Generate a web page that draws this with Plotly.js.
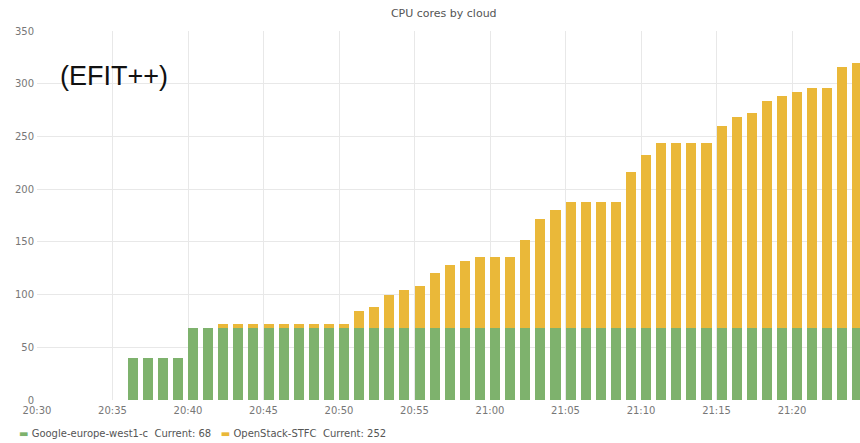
<!DOCTYPE html>
<html><head><meta charset="utf-8">
<script src="https://cdn.plot.ly/plotly-3.0.1.min.js"></script>
<style>html,body{margin:0;padding:0;background:#fff}#c{width:860px;height:443px}</style>
</head><body><div id="c"></div>
<script>
const times = ["20:36","20:37","20:38","20:39","20:40","20:41","20:42","20:43","20:44","20:45","20:46","20:47","20:48","20:49","20:50","20:51","20:52","20:53","20:54","20:55","20:56","20:57","20:58","20:59","21:00","21:01","21:02","21:03","21:04","21:05","21:06","21:07","21:08","21:09","21:10","21:11","21:12","21:13","21:14","21:15","21:16","21:17","21:18","21:19","21:20","21:21","21:22","21:23","21:24"];
const google = [40,40,40,40,68,68,68,68,68,68,68,68,68,68,68,68,68,68,68,68,68,68,68,68,68,68,68,68,68,68,68,68,68,68,68,68,68,68,68,68,68,68,68,68,68,68,68,68,68];
const openstack = [0,0,0,0,0,0,4,4,4,4,4,4,4,4,4,16,20,32,36,40,52,60,64,68,68,68,84,104,112,120,120,120,120,148,164,176,176,176,176,192,200,204,216,220,224,228,228,248,252];
const seriesNames = ["Google-europe-west1-c","OpenStack-STFC"];
const currentVals = [google[google.length-1], openstack[openstack.length-1]];
const xTickStart = "20:30", xEnd = "21:24:30";
const day = "2019-01-01 ";
const xs = times.map(t => day + t);
const green = "#7EB26D", yellow = "#EAB839";
const tickFont = {family:"DejaVu Sans", size:10, color:"#777"};
const traces = [
  {type:"bar", x:xs, y:google, name:seriesNames[0], marker:{color:green}, offset:0, width:40000, showlegend:false, hoverinfo:"skip"},
  {type:"bar", x:xs, y:openstack, name:seriesNames[1], marker:{color:yellow}, offset:0, width:40000, showlegend:false, hoverinfo:"skip"}
];
const layout = {
  width:860, height:443, barmode:"stack",
  margin:{l:37, r:0, t:31, b:43},
  paper_bgcolor:"#fff", plot_bgcolor:"#fff",
  title:{text:"CPU cores by cloud", font:{family:"DejaVu Sans", size:11, color:"#555"}, x:0.516, xanchor:"center", y:0.98, yanchor:"top"},
  xaxis:{type:"date", range:[day+xTickStart, day+xEnd], tickformat:"%H:%M", dtick:300000, tick0:day+xTickStart,
         showgrid:true, gridcolor:"#e8e8e8", gridwidth:1, zeroline:false, showline:false, ticks:"", tickfont:tickFont, ticklabelstandoff:3},
  yaxis:{range:[0,350], dtick:50, showgrid:true, gridcolor:"#e8e8e8", zeroline:false, showline:false, ticks:"", tickfont:tickFont, ticklabelstandoff:2},
  annotations:[
    {text:"(EFIT++)", xref:"paper", yref:"paper", x:0.026, y:0.878, xanchor:"left", yanchor:"middle", showarrow:false, font:{family:"Liberation Sans, Arial", size:27, color:"#111"}},
    {text:"<span style='color:"+green+"'>▬</span> "+seriesNames[0]+"  Current: "+currentVals[0]+"   <span style='color:"+yellow+"'>▬</span> "+seriesNames[1]+"  Current: "+currentVals[1],
     xref:"paper", yref:"paper", x:-0.024, y:-0.09, xanchor:"left", yanchor:"middle", showarrow:false, font:{family:"DejaVu Sans", size:10, color:"#555"}}
  ]
};
Plotly.newPlot("c", traces, layout, {displayModeBar:false, staticPlot:true});
</script></body></html>
